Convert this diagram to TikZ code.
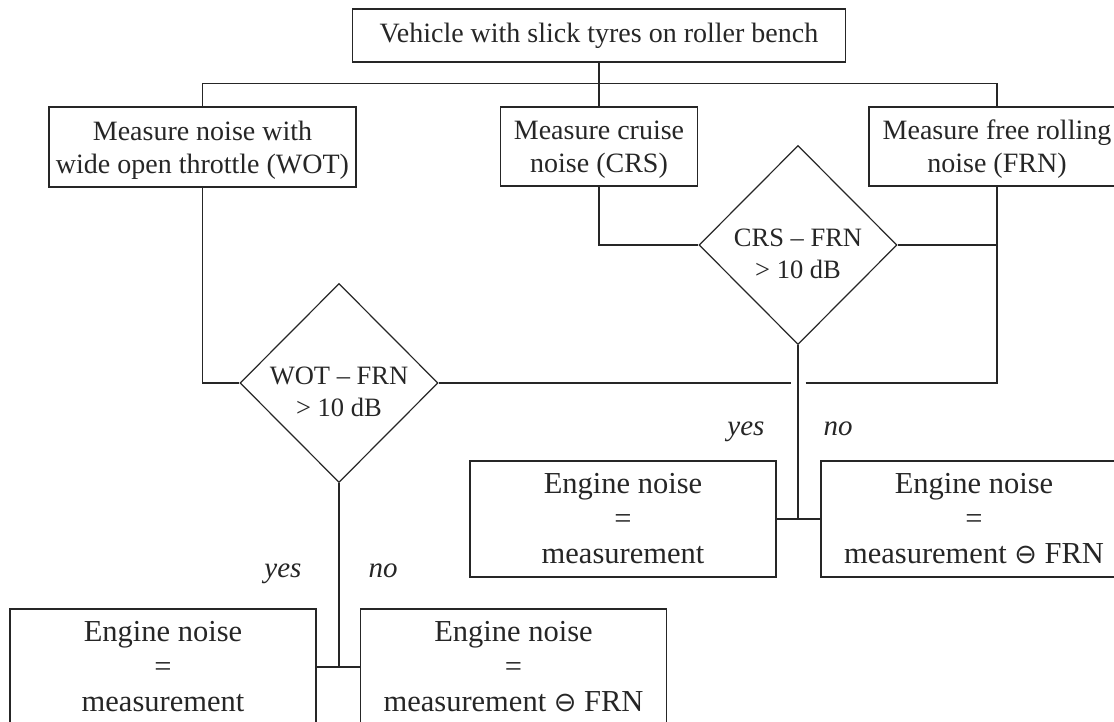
\documentclass[tikz,border=0pt]{standalone}
\usepackage{fontspec}
\setmainfont{Liberation Serif}
\newfontfamily\symfnt{DejaVu Sans}
\usetikzlibrary{shapes.geometric,calc}
\begin{document}
\begin{tikzpicture}[x=1pt,y=-1pt,
  line/.style={draw=black!85, line width=1.2pt},
  box/.style={draw=black!85, line width=1.2pt, rectangle, inner sep=0pt, align=center,
    text=black!85, font=\fontsize{28}{33}\selectfont},
  res/.style={box, minimum width=306pt, minimum height=116pt, font=\fontsize{30.5}{35}\selectfont},
  dia/.style={draw=black!85, line width=1.2pt, diamond, inner sep=0pt,
    minimum width=198pt, minimum height=199pt},
  diatext/.style={align=center, text=black!85, font=\fontsize{26.5}{32}\selectfont, inner sep=0pt},
  lab/.style={text=black!85, font=\fontsize{29}{34}\selectfont\itshape, inner sep=0pt, anchor=base}]
\useasboundingbox (0,0) rectangle (1114,722);
\clip (0,0) rectangle (1114,722);

% boxes
\node[box, minimum width=493pt, minimum height=53pt] (top) at (599,35.5) {Vehicle with slick tyres on roller bench};
\node[box, minimum width=307pt, minimum height=80pt, text depth=0pt] (wot) at (202.5,147) {Measure noise with\\wide open throttle (WOT)};
\node[box, minimum width=197pt, minimum height=79pt, text depth=0pt] (crs) at (599,146.5) {Measure cruise\\noise (CRS)};
\node[box, minimum width=256pt, minimum height=79pt, text depth=0pt] (frn) at (997,146.5) {Measure free rolling\\noise (FRN)};

% decisions
\node[dia] (d1) at (339,383) {};
\node[diatext] (d1t) at (339,392) {WOT -- FRN\\> 10 dB};
\node[dia] (d2) at (798,245) {};
\node[diatext] (d2t) at (798,254) {CRS -- FRN\\> 10 dB};

% results
\node[res] (r1) at (623,519) {Engine noise\\=\\measurement};
\node[res] (r2) at (974,519) {Engine noise\\=\\measurement {\symfnt\fontsize{27}{35}\selectfont ⊖} FRN};
\node[res] (b1) at (163,667) {Engine noise\\=\\measurement};
\node[res] (b2) at (513.5,667) {Engine noise\\=\\measurement {\symfnt\fontsize{27}{35}\selectfont ⊖} FRN};

% labels
\node[lab] (y2) at (746,435) {yes};
\node[lab] (n2) at (838,435) {no};
\node[lab] (y1) at (283,577) {yes};
\node[lab] (n1) at (383,577) {no};

% connectors
\draw[line] (top.south) -- (crs.north);
\draw[line] (wot.north) -- ++(0,-23) -| (frn.north);
\draw[line] (wot.south) |- (d1.west);
\draw[line] (crs.south) |- (d2.west);
\draw[line] (frn.south) |- (d2.east);
\coordinate (gapL) at ($(d2.south |- d1.east)+(-7.5,0)$);
\coordinate (gapR) at ($(d2.south |- d1.east)+(7.5,0)$);
\draw[line] (d1.east) -- (gapL);
\draw[line] (gapR) -| (frn.south);
\draw[line] (d2.south) -- (d2.south |- r1.east);
\draw[line] (r1.east) -- (r2.west);
\draw[line] (d1.south) -- (d1.south |- b1.east);
\draw[line] (b1.east) -- (b2.west);
\end{tikzpicture}
\end{document}
